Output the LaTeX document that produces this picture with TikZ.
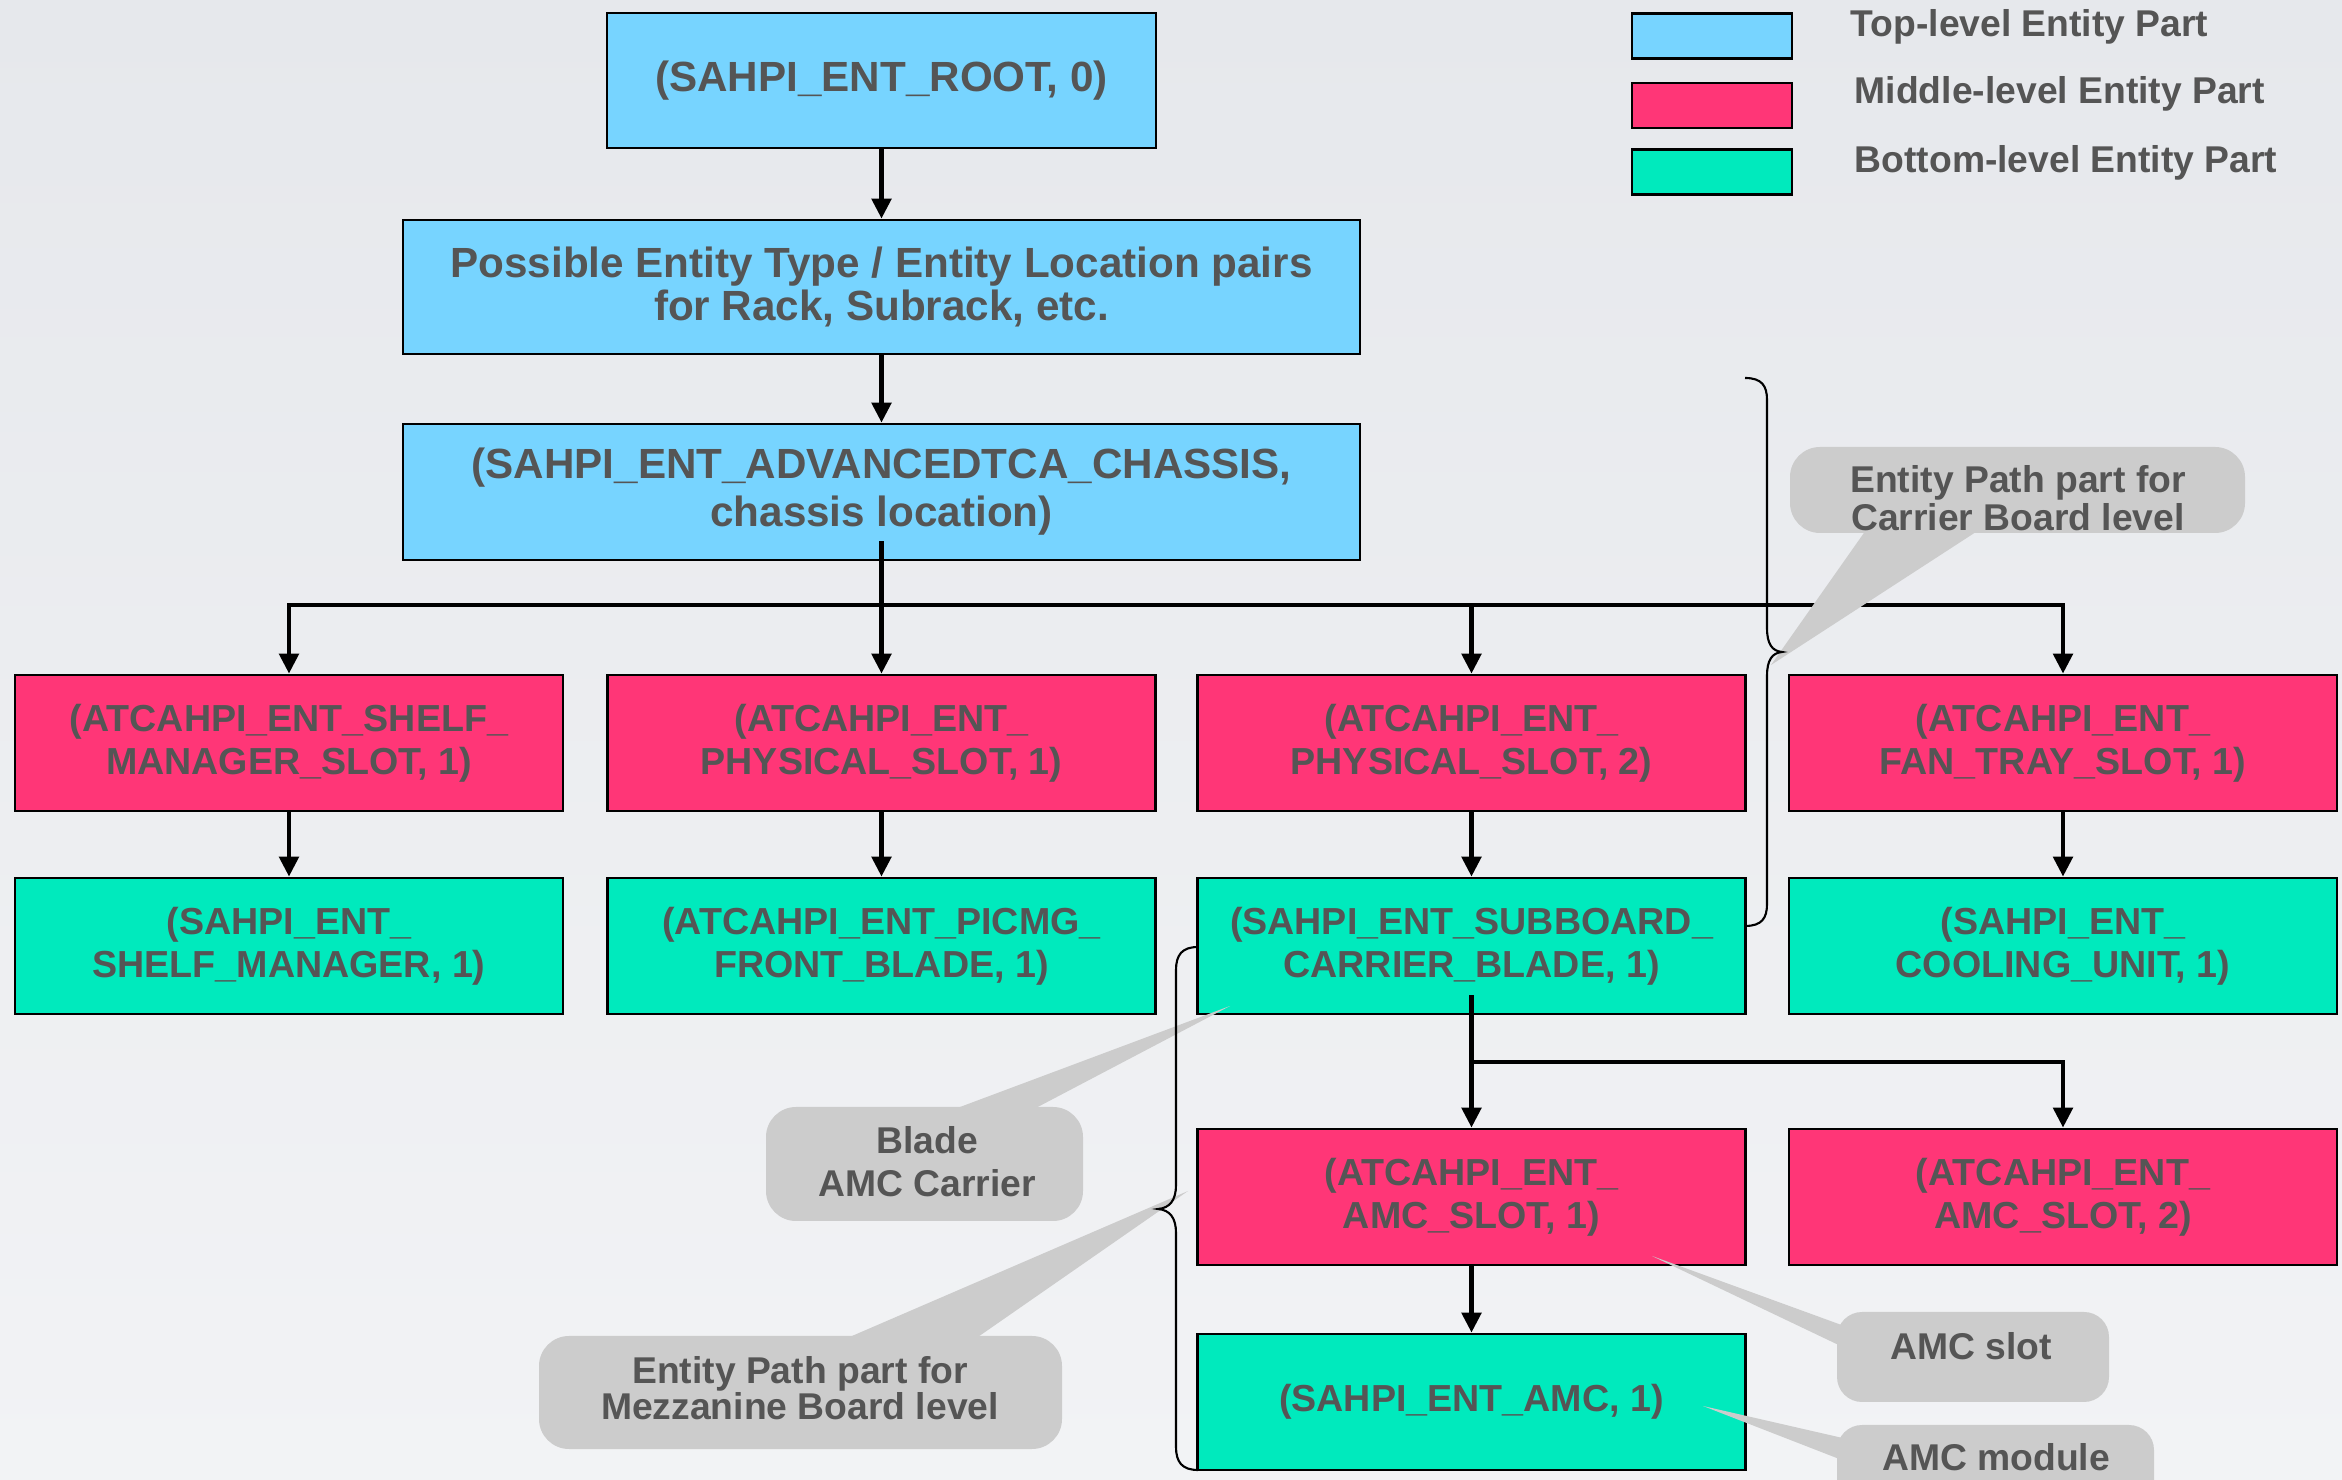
\documentclass[tikz,border=0pt]{standalone}
\usepackage{fontspec}
\setmainfont{Liberation Sans}
\usetikzlibrary{arrows.meta}

\definecolor{bgtop}{RGB}{230,232,236}
\definecolor{bgbot}{RGB}{242,243,245}
\definecolor{toplvl}{RGB}{119,212,255}
\definecolor{midlvl}{RGB}{255,54,119}
\definecolor{botlvl}{RGB}{0,234,189}
\definecolor{txtgray}{RGB}{85,85,85}
\definecolor{bubblegray}{RGB}{204,204,204}

\tikzset{
  entity/.style={draw=black, line width=0.7pt, minimum width=5.48cm,
    minimum height=1.36cm, inner sep=0pt, align=center, text=txtgray,
    font=\bfseries\fontsize{10.7}{12.2}\selectfont},
  toppart/.style={entity, fill=toplvl},
  midpart/.style={entity, fill=midlvl},
  botpart/.style={entity, fill=botlvl},
  keybox/.style={draw=black, line width=0.8pt, minimum width=1.6cm,
    minimum height=0.45cm, inner sep=0pt},
  keytext/.style={text=txtgray, inner sep=0pt,
    font=\bfseries\fontsize{10.6}{12}\selectfont},
  note/.style={text=txtgray, inner sep=0pt, align=center,
    font=\bfseries\fontsize{10.6}{12.2}\selectfont},
  conn/.style={line width=1.4pt, -{Triangle[length=0.2cm,width=0.19cm]}},
  bracket/.style={line width=0.6pt},
  bubble/.style={fill=bubblegray},
}

\begin{document}
\begin{tikzpicture}[x=0.01cm, y=-0.01cm]
  % page background
  \shade[top color=bgtop, bottom color=bgbot] (0,0) rectangle (2342,1480);
  \useasboundingbox (0,0) rectangle (2342,1480);

  % legend
  \node[keybox, fill=toplvl] (keytop) at (1712,36) {};
  \node[keybox, fill=midlvl] (keymid) at (1712,105.5) {};
  \node[keybox, fill=botlvl] (keybot) at (1712,172) {};
  \node[keytext, anchor=base west] (keytoptxt) at (1850,37) {Top-level Entity Part};
  \node[keytext, anchor=base west] (keymidtxt) at (1854,104) {Middle-level Entity Part};
  \node[keytext, anchor=base west] (keybottxt) at (1854,173) {Bottom-level Entity Part};

  % top-level parts
  \node[toppart, minimum width=5.49cm, minimum height=1.35cm,
        font=\bfseries\fontsize{12}{12.3}\selectfont] (root) at (881.5,80.5)
    {(SAHPI\_ENT\_ROOT, 0)};
  \node[toppart, minimum width=9.56cm, minimum height=1.34cm,
        font=\bfseries\fontsize{12}{10.6}\selectfont] (pairs) at (881.5,287)
    {Possible Entity Type / Entity Location pairs\\for Rack, Subrack, etc.};
  \node[toppart, minimum width=9.56cm,
        font=\bfseries\fontsize{12}{13.6}\selectfont] (chassis) at (881.5,492)
    {(SAHPI\_ENT\_ADVANCEDTCA\_CHASSIS,\\chassis location)};

  % middle-level slots
  \node[midpart] (shelfslot) at (289,743) {(ATCAHPI\_ENT\_SHELF\_\\MANAGER\_SLOT, 1)};
  \node[midpart] (physlotA) at (881.5,743) {(ATCAHPI\_ENT\_\\PHYSICAL\_SLOT, 1)};
  \node[midpart] (physlotB) at (1471.5,743) {(ATCAHPI\_ENT\_\\PHYSICAL\_SLOT, 2)};
  \node[midpart] (fanslot) at (2063,743) {(ATCAHPI\_ENT\_\\FAN\_TRAY\_SLOT, 1)};

  % bottom-level parts
  \node[botpart] (shelfmgr) at (289,946) {(SAHPI\_ENT\_\\SHELF\_MANAGER, 1)};
  \node[botpart] (frontblade) at (881.5,946) {(ATCAHPI\_ENT\_PICMG\_\\FRONT\_BLADE, 1)};
  \node[botpart] (carrier) at (1471.5,946) {(SAHPI\_ENT\_SUBBOARD\_\\CARRIER\_BLADE, 1)};
  \node[botpart] (cooling) at (2063,946) {(SAHPI\_ENT\_\\COOLING\_UNIT, 1)};

  % mezzanine level
  \node[midpart] (amcslotA) at (1471.5,1197) {(ATCAHPI\_ENT\_\\AMC\_SLOT, 1)};
  \node[midpart] (amcslotB) at (2063,1197) {(ATCAHPI\_ENT\_\\AMC\_SLOT, 2)};
  \node[botpart] (amc) at (1471.5,1402) {(SAHPI\_ENT\_AMC, 1)};

  % junction points of the two buses
  \coordinate (busA) at (881.5,605);
  \coordinate (busB) at (1471.5,1062);

  % connectors
  \draw[conn] (root.south) -- (pairs.north);
  \draw[conn] (pairs.south) -- (chassis.north);
  \draw[conn] ([yshift=2mm]chassis.south) -- (busA) -| (shelfslot.north);
  \draw[conn] ([yshift=2mm]chassis.south) -- (busA) -- (physlotA.north);
  \draw[conn] ([yshift=2mm]chassis.south) -- (busA) -| (physlotB.north);
  \draw[conn] ([yshift=2mm]chassis.south) -- (busA) -| (fanslot.north);
  \draw[conn] (shelfslot.south) -- (shelfmgr.north);
  \draw[conn] (physlotA.south) -- (frontblade.north);
  \draw[conn] (physlotB.south) -- (carrier.north);
  \draw[conn] (fanslot.south) -- (cooling.north);
  \draw[conn] ([yshift=2mm]carrier.south) -- (busB) -- (amcslotA.north);
  \draw[conn] ([yshift=2mm]carrier.south) -- (busB) -| (amcslotB.north);
  \draw[conn] (amcslotA.south) -- (amc.north);

  % callouts
  \fill[bubble, rounded corners=0.3cm] (1790,447) rectangle (2245,533);
  \fill[bubble] (1866,530) -- (1771,665) -- (1979,530) -- cycle;
  \node[note, font=\bfseries\fontsize{10.6}{9.6}\selectfont] (carriernote) at (2018,498)
    {Entity Path part for\\Carrier Board level};

  \fill[bubble, rounded corners=0.3cm] (766,1107) rectangle (1083,1221);
  \fill[bubble] (952,1110) -- (1230,1006) -- (1032,1110) -- cycle;
  \node[note] (bladenote) at (927,1162) {Blade\\AMC Carrier};

  \fill[bubble, rounded corners=0.3cm] (539,1336) rectangle (1062,1449);
  \fill[bubble] (845,1339) -- (1188,1191) -- (975,1339) -- cycle;
  \node[note, font=\bfseries\fontsize{10.6}{10.3}\selectfont] (mezznote) at (800,1388)
    {Entity Path part for\\Mezzanine Board level};

  \fill[bubble, rounded corners=0.25cm] (1837,1312) rectangle (2109,1402);
  \fill[bubble] (1847,1327) -- (1652,1256) -- (1847,1349) -- cycle;
  \node[note] (slotnote) at (1971,1346) {AMC slot};

  \fill[bubble, rounded corners=0.25cm] (1837,1425) rectangle (2154,1510);
  \fill[bubble] (1847,1439) -- (1703,1406) -- (1847,1462) -- cycle;
  \node[note] (modulenote) at (1996,1457) {AMC module};

  % brace grouping the carrier-board path
  \draw[bracket] (1745,378) .. controls (1762,378) and (1767,386) .. (1767,400)
    -- (1767,628) .. controls (1767,644) and (1772,651) .. (1782,652)
    .. controls (1772,653) and (1767,660) .. (1767,676)
    -- (1767,904) .. controls (1767,918) and (1762,926) .. (1745,926);

  % brace grouping the mezzanine-board path
  \draw[bracket] (1198,947) .. controls (1182,947) and (1176,955) .. (1176,970)
    -- (1176,1185) .. controls (1176,1200) and (1170,1208) .. (1158,1209)
    .. controls (1170,1210) and (1176,1218) .. (1176,1233)
    -- (1176,1447) .. controls (1176,1462) and (1182,1470) .. (1198,1470);
\end{tikzpicture}
\end{document}
